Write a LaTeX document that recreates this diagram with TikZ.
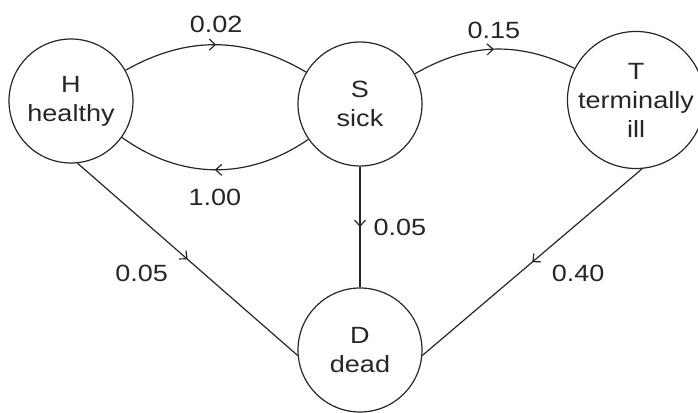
\documentclass[tikz,border=0pt]{standalone}
\usepackage{fontspec}
\setmainfont{Liberation Sans}[FakeStretch=1.15]
\usepackage{tikz}
\usetikzlibrary{decorations.markings}
\usetikzlibrary{arrows.meta}
\tikzstyle{State}=[circle,draw=black!85,line width=1.2pt,minimum size=124pt,
inner sep=0pt,align=center,text=black!85]
\tikzstyle{Edge}=[draw=black!85,line width=1.2pt,postaction={decorate},
decoration={markings,mark=at position .5 with
    {\arrow{Straight Barb[length=6pt,width=11pt,line width=1.2pt]}}}]
\tikzstyle{Prob}=[inner sep=0pt,text=black!85]

\begin{document}
\begin{tikzpicture}[x=1pt,y=1pt,font=\fontsize{23.5}{29}\selectfont]
        \useasboundingbox(0,0)rectangle(698,412);
        \node[State](H)at(71,311){H\\healthy};
        \node[State](S)at(360,308){S\\sick};
        \node[State](T)at(636,312){T\\terminally\\ill};
        \node[State](D)at(360,62){D\\dead};
        \draw[Edge](H)to[bend left=30]node[Prob,midway,above=11pt]{0.02}(S);
        \draw[Edge](S)to[bend left=35]node[Prob,midway,below=19pt]{1.00}(H);
        \draw[Edge](S)to[bend left=28]node[Prob,midway,above=10pt]{0.15}(T);
        \draw[Edge](S.south)--node[Prob,midway,right=13pt]{0.05}(D.north);
        \draw[Edge](H.-84)--node[Prob,midway,anchor=east,xshift=-19pt,yshift=-14pt]{0.05}(D.185);
        \draw[Edge](T.-85)--node[Prob,midway,anchor=west,xshift=19pt,yshift=-11pt]{0.40}(D.-5);
    \end{tikzpicture}
\end{document}
